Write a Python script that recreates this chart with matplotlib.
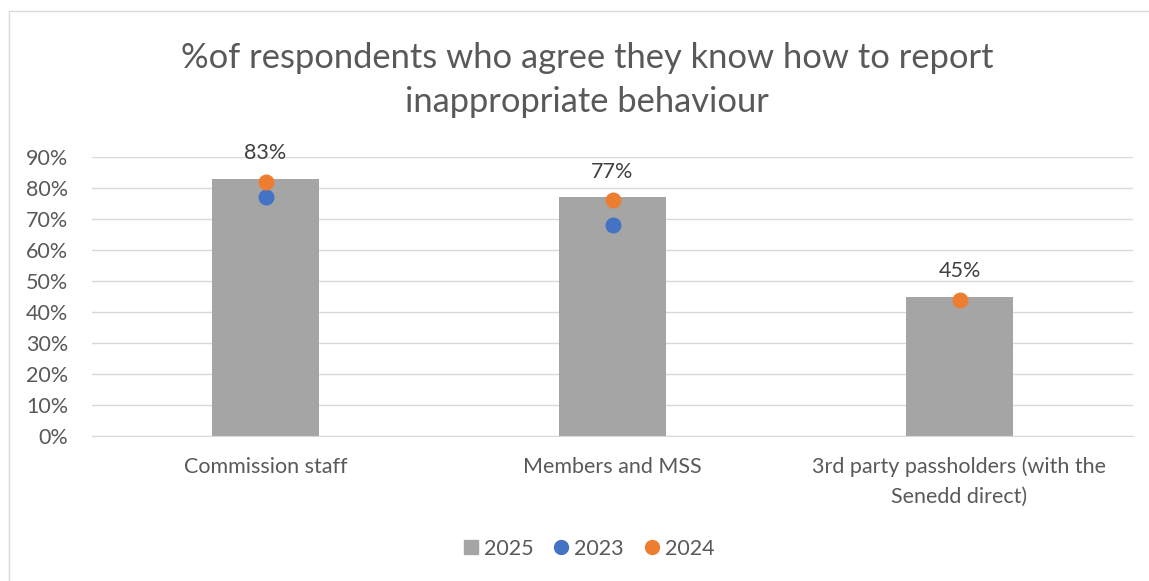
import numpy as np
import matplotlib.pyplot as plt
from matplotlib.patches import Rectangle
from matplotlib.lines import Line2D

categories = ['Commission staff', 'Members and MSS',
              '3rd party passholders (with the\nSenedd direct)']
values_2025 = [0.83, 0.77, 0.45]
values_2023 = [0.77, 0.68, np.nan]
values_2024 = [0.82, 0.76, 0.44]
labels_2025 = ['83%', '77%', '45%']

plt.rcParams['font.family'] = ['Lato', 'DejaVu Sans']
text_color = '#595959'
fs = 15.5

fig = plt.figure(figsize=(11.49, 5.81), dpi=100)
ax = fig.add_axes([92 / 1149, 1 - 436 / 581, 1041 / 1149, 279 / 581])

# chart border
fig.patches.append(Rectangle((9 / 1149, -0.01), 1.2, 1 - 11 / 581 + 0.01,
                             transform=fig.transFigure, fill=False,
                             edgecolor='#d9d9d9', linewidth=1))

x = np.arange(len(categories))
ax.bar(x, values_2025, width=0.31, color='#a5a5a5', zorder=2)
ax.scatter(x, values_2023, s=110, color='#4472c4', zorder=3)
ax.scatter(x, values_2024, s=110, color='#ed7d31', zorder=4)

for xi, v, lab in zip(x, values_2025, labels_2025):
    ax.annotate(lab, (xi, v), xytext=(0, 11), textcoords='offset points',
                ha='center', va='bottom', fontsize=fs, color='#404040')

ax.set_xlim(-0.5, 2.5)
ax.set_ylim(0, 0.9)
ax.set_yticks(np.arange(0, 0.91, 0.1))
ax.set_yticklabels([f'{int(round(t * 100))}%' for t in np.arange(0, 0.91, 0.1)])
ax.yaxis.grid(True, color='#d9d9d9', linewidth=1, zorder=0)
ax.set_axisbelow(True)
for s in ['top', 'right', 'left']:
    ax.spines[s].set_visible(False)
ax.spines['bottom'].set_color('#d9d9d9')
ax.set_xticks(x)
ax.set_xticklabels(categories, fontsize=fs, color=text_color,
                   linespacing=1.6)
ax.tick_params(axis='y', labelsize=fs, labelcolor=text_color, length=0, pad=17)
ax.tick_params(axis='x', length=0, pad=15)

fig.text(0.511, 1 - 80 / 581, '%of respondents who agree they know how to report\ninappropriate behaviour',
         ha='center', va='center', fontsize=24.8, color=text_color, linespacing=1.45)

handles = [
    Line2D([], [], marker='s', linestyle='none', markersize=10, color='#a5a5a5'),
    Line2D([], [], marker='o', linestyle='none', markersize=10, color='#4472c4'),
    Line2D([], [], marker='o', linestyle='none', markersize=10, color='#ed7d31'),
]
fig.legend(handles, ['2025', '2023', '2024'], loc='center',
           bbox_to_anchor=(0.511, 1 - 549 / 581), ncol=3, frameon=False,
           fontsize=fs, labelcolor=text_color, handletextpad=0.1,
           columnspacing=0.8, handlelength=1.0)

fig.savefig('out.png', dpi=100)
